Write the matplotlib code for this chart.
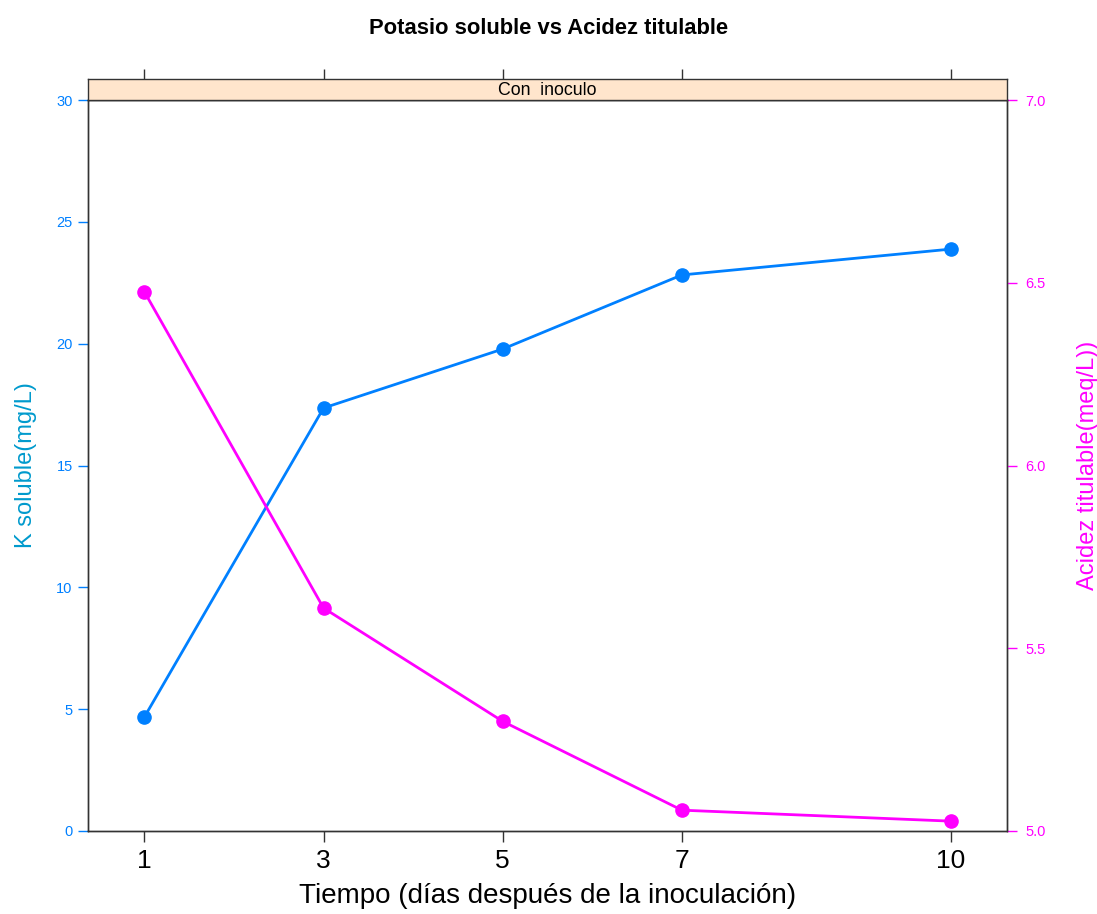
import matplotlib
matplotlib.use("Agg")
import matplotlib.pyplot as plt

plt.rcParams['font.family'] = ['Liberation Sans', 'DejaVu Sans']

# días después de la inoculación
tiempo = [1, 3, 5, 7, 10]
k_soluble = [4.68, 17.36, 19.78, 22.82, 23.88]
acidez = [6.475, 5.61, 5.30, 5.057, 5.027]

x_ticks = [1, 3, 5, 7, 10]
k_ticks = [0, 5, 10, 15, 20, 25, 30]
ac_ticks = [5.0, 5.5, 6.0, 6.5, 7.0]

azul = '#0080ff'
magenta = '#ff00ff'

fig = plt.figure(figsize=(10.97, 9.14), dpi=100)
W, H = 1097, 914
x0, x1 = 88, 1007
ytop, ybot = 100, 831
strip_top = 79

ax = fig.add_axes([x0 / W, (H - ybot) / H, (x1 - x0) / W, (ybot - ytop) / H])
ax2 = ax.twinx()

ax.plot(tiempo, k_soluble, color=azul, lw=2, marker='o', ms=9.5, zorder=3)
ax2.plot(tiempo, acidez, color=magenta, lw=2, marker='o', ms=9.5, zorder=3)

ax.set_xlim(1 - 0.07 * 9, 10 + 0.07 * 9)
ax.set_ylim(0, 30)
ax2.set_ylim(5.0, 7.0)

ax.set_xticks(x_ticks)
ax.set_xticklabels([str(t) for t in x_ticks], fontsize=19)
ax.tick_params(axis='x', length=8, width=1, pad=5, color='#333333')

ax.set_yticks(k_ticks)
ax.set_yticklabels([str(t) for t in k_ticks], fontsize=10.5, color=azul)
ax.tick_params(axis='y', length=7, width=1, color=azul, pad=4)
ax2.set_yticks(ac_ticks)
ax2.set_yticklabels([f'{t:.1f}' for t in ac_ticks], fontsize=10.5, color=magenta)
ax2.tick_params(axis='y', length=7, width=1, color=magenta, pad=6.5)

for a in (ax, ax2):
    for s in a.spines.values():
        s.set_color('#333333')
        s.set_linewidth(1)

ax.set_xlabel('Tiempo (días después de la inoculación)', fontsize=20, labelpad=7)
ax.set_ylabel('K soluble(mg/L)', fontsize=17, color='#009acd', labelpad=14)
ax2.set_ylabel('Acidez titulable(meq/L))', fontsize=17, color=magenta, labelpad=22)

# franja del panel
strip = fig.add_axes([x0 / W, (H - ytop) / H, (x1 - x0) / W, (ytop - strip_top) / H])
strip.set_facecolor('#ffe5cc')
strip.set_xlim(ax.get_xlim())
strip.set_ylim(0, 1)
strip.set_yticks([])
strip.set_xticks(x_ticks)
strip.tick_params(axis='x', top=True, bottom=False, labeltop=False, labelbottom=False,
                  length=7, width=1, color='#333333')
for s in strip.spines.values():
    s.set_color('#333333')
    s.set_linewidth(1)
strip.text(0.5, 0.45, 'Con  inoculo', transform=strip.transAxes,
           ha='center', va='center', fontsize=12.8)

fig.text(0.5, 1 - 28 / H, 'Potasio soluble vs Acidez titulable',
         ha='center', va='center', fontsize=15.8, fontweight='bold')

fig.savefig('out.png', dpi=100)
